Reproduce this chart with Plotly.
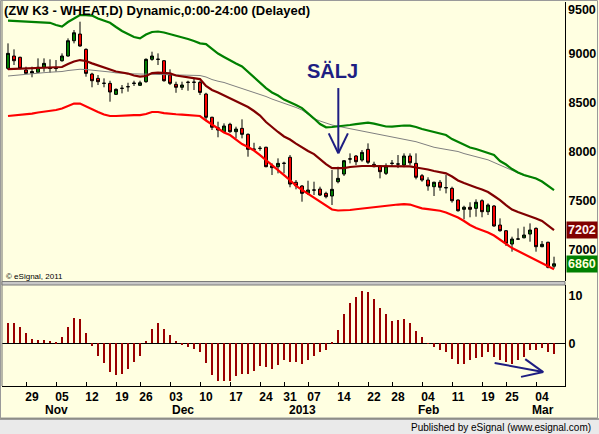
import plotly.graph_objects as go
import pandas as pd

W, H = 599, 434

# ---------------- data ----------------
holidays = ["2012-11-22", "2012-12-25", "2013-01-01", "2013-01-21", "2013-02-18"]
dates = [d for d in pd.bdate_range("2012-10-23", "2013-03-06")
         if d.strftime("%Y-%m-%d") not in holidays]
x = list(range(len(dates)))

opens = [8853, 8979, 8966, 8836, 8821, 8813, 8864, 8855, 8852, 8931,
         8979, 9135, 9203, 9047, 8795, 8751, 8702, 8700, 8588, 8650,
         8666, 8698, 8680, 8717, 8945, 8947, 8931, 8785, 8690, 8660,
         8712, 8710, 8711, 8591, 8354, 8247, 8207, 8282, 8207, 8241,
         8180, 8029, 8037, 8048, 7860, 7850, 7886, 7946, 7691, 7653,
         7578, 7613, 7622, 7578, 7551, 7697, 7775, 7930, 7959, 7918,
         8027, 7874, 7857, 7782, 7883, 7878, 7867, 7959, 7884, 7758,
         7714, 7646, 7691, 7637, 7629, 7510, 7415, 7436, 7425, 7503,
         7391, 7449, 7255, 7197, 7061, 7111, 7125, 7163, 7221, 7034,
         7079, 6835]
highs = [9108, 9047, 8972, 8870, 8870, 8955, 8955, 8945, 8938, 9006,
         9159, 9244, 9329, 9057, 8808, 8785, 8751, 8727, 8649, 8683,
         8706, 8727, 8727, 8955, 9023, 9006, 8938, 8843, 8717, 8717,
         8727, 8751, 8727, 8604, 8360, 8309, 8292, 8298, 8258, 8333,
         8190, 8094, 8061, 8054, 7884, 7935, 7901, 7969, 7714, 7663,
         7707, 7697, 7646, 7595, 7816, 7850, 7918, 7986, 7969, 8020,
         8088, 7901, 7867, 7884, 7918, 7969, 7986, 7986, 7986, 7775,
         7742, 7697, 7714, 7765, 7646, 7517, 7452, 7487, 7517, 7517,
         7476, 7459, 7323, 7204, 7136, 7221, 7238, 7272, 7231, 7092,
         7085, 6932]
lows = [8836, 8887, 8843, 8802, 8762, 8813, 8819, 8808, 8819, 8921,
        8972, 9108, 9074, 8768, 8660, 8683, 8660, 8513, 8581, 8598,
        8615, 8673, 8673, 8706, 8931, 8887, 8717, 8683, 8604, 8632,
        8625, 8632, 8581, 8326, 8224, 8150, 8196, 8196, 8139, 8139,
        7952, 8020, 8013, 7844, 7765, 7782, 7782, 7640, 7619, 7493,
        7561, 7561, 7551, 7527, 7459, 7680, 7755, 7884, 7867, 7901,
        7877, 7844, 7731, 7765, 7850, 7836, 7844, 7867, 7721, 7697,
        7605, 7551, 7605, 7578, 7483, 7391, 7313, 7334, 7340, 7334,
        7357, 7238, 7187, 7041, 6983, 7109, 7119, 7085, 6983, 7028,
        6813, 6813]
closes = [9006, 8931, 8853, 8802, 8805, 8864, 8904, 8852, 8855, 8979,
          9135, 9216, 9081, 8802, 8727, 8717, 8700, 8612, 8639, 8649,
          8666, 8702, 8706, 8945, 8979, 8945, 8727, 8700, 8660, 8683,
          8710, 8712, 8608, 8354, 8252, 8224, 8265, 8207, 8234, 8180,
          8027, 8027, 8037, 7850, 7840, 7884, 7884, 7673, 7656, 7578,
          7612, 7611, 7561, 7544, 7619, 7731, 7911, 7928, 7901, 7996,
          7895, 7850, 7799, 7857, 7885, 7877, 7959, 7890, 7742, 7714,
          7653, 7691, 7640, 7635, 7503, 7401, 7436, 7415, 7487, 7391,
          7459, 7245, 7197, 7068, 7112, 7113, 7153, 7204, 7034, 7058,
          6824, 6860]

upper_band = [9339, 9336, 9331, 9326, 9326, 9323, 9320, 9318, 9295, 9280,
              9326, 9366, 9397, 9397, 9392, 9361, 9336, 9318, 9275, 9234,
              9203, 9173, 9159, 9198, 9224, 9229, 9219, 9203, 9188, 9173,
              9152, 9132, 9108, 9101, 9055, 9004, 8969, 8933, 8902, 8872,
              8816, 8760, 8703, 8652, 8607, 8576, 8535, 8510, 8479, 8448,
              8397, 8341, 8285, 8252, 8255, 8260, 8270, 8275, 8285, 8295,
              8300, 8290, 8275, 8260, 8258, 8265, 8270, 8268, 8255, 8234,
              8219, 8204, 8188, 8173, 8132, 8102, 8071, 8046, 8030, 8010,
              7989, 7969, 7908, 7872, 7826, 7791, 7765, 7750, 7729, 7699,
              7658, 7612]
middle_line = [8846, 8848, 8850, 8851, 8853, 8854, 8856, 8858, 8862, 8867,
               8897, 8923, 8938, 8928, 8904, 8882, 8862, 8841, 8821, 8811,
               8800, 8780, 8768, 8775, 8805, 8809, 8805, 8802, 8780, 8770,
               8762, 8754, 8744, 8673, 8632, 8607, 8578, 8547, 8515, 8489,
               8459, 8418, 8372, 8306, 8250, 8204, 8158, 8127, 8086, 8046,
               8010, 7979, 7928, 7877, 7836, 7833, 7836, 7847, 7854, 7857,
               7857, 7857, 7857, 7857, 7857, 7857, 7857, 7854, 7842, 7833,
               7821, 7806, 7793, 7782, 7750, 7709, 7683, 7658, 7638, 7617,
               7592, 7551, 7510, 7459, 7413, 7388, 7367, 7342, 7321, 7296,
               7250, 7202]
lower_band = [8367, 8372, 8379, 8385, 8392, 8403, 8410, 8418, 8428, 8443,
              8469, 8494, 8494, 8464, 8433, 8408, 8382, 8367, 8367, 8372,
              8375, 8377, 8377, 8387, 8408, 8408, 8397, 8389, 8385, 8381,
              8377, 8375, 8367, 8321, 8280, 8239, 8199, 8173, 8127, 8081,
              8051, 8015, 7969, 7918, 7867, 7816, 7765, 7714, 7653, 7612,
              7571, 7530, 7490, 7449, 7413, 7403, 7403, 7408, 7416, 7424,
              7428, 7437, 7442, 7449, 7457, 7464, 7469, 7464, 7444, 7425,
              7418, 7410, 7401, 7383, 7357, 7332, 7296, 7255, 7224, 7204,
              7179, 7148, 7107, 7061, 7020, 6990, 6959, 6929, 6903, 6867,
              6837, 6803]
slow_ma = [8775, 8782, 8787, 8793, 8799, 8805, 8809, 8814, 8817, 8821,
           8831, 8838, 8844, 8841, 8836, 8831, 8824, 8816, 8807, 8801,
           8799, 8797, 8795, 8792, 8790, 8789, 8788, 8787, 8786, 8785,
           8785, 8784, 8780, 8765, 8739, 8722, 8709, 8688, 8668, 8647,
           8627, 8607, 8586, 8566, 8540, 8520, 8499, 8479, 8454, 8428,
           8387, 8341, 8316, 8295, 8275, 8262, 8250, 8237, 8224, 8214,
           8200, 8188, 8173, 8163, 8153, 8142, 8132, 8119, 8105, 8086,
           8066, 8048, 8037, 8027, 8020, 8005, 7984, 7969, 7949, 7933,
           7920, 7893, 7867, 7836, 7811, 7785, 7760, 7745, 7732, 7694,
           7653, 7612]
oscillator = [4.3, 4.3, 3.5, 2.2, 0.9, 0.7, 0.7, 0.5, 0.3, 1.4,
              3.3, 5.3, 5.1, 2.2, -0.5, -2.6, -4.2, -5.9, -6.6, -6.4,
              -5.3, -4.0, -2.6, 0.5, 3.0, 4.3, 3.0, 1.7, 0.5, -0.2,
              -0.7, -1.2, -1.9, -4.2, -6.6, -7.8, -7.8, -7.8, -6.9, -6.4,
              -6.4, -5.7, -4.7, -5.0, -5.3, -4.5, -3.5, -4.0, -3.8, -4.3,
              -3.5, -2.6, -1.9, -1.4, 0.3, 2.8, 6.1, 8.5, 9.7, 10.9,
              10.6, 9.2, 7.4, 6.1, 4.7, 4.9, 5.0, 4.3, 2.6, 1.4,
              -0.1, -0.7, -1.5, -1.9, -3.3, -4.3, -4.3, -3.5, -3.1, -2.8,
              -1.9, -2.9, -3.5, -4.0, -4.3, -3.5, -2.9, -1.5, -1.5, -0.9,
              -1.9, -2.2]

price_ticks = [7000, 7500, 8000, 8500, 9000]
top_price_label = 9500
osc_ticks = [0, 10]

# ---------------- derived tick positions ----------------
week_starts = [i for i in x[1:] if dates[i].isocalendar()[1] != dates[i - 1].isocalendar()[1]]
day_text = [dates[i].strftime("%d") for i in week_starts]
week_ends = [i - 0.9 for i in week_starts]
month_starts = [i for i in x[1:] if dates[i].month != dates[i - 1].month]
month_text = [("2013" if dates[i].month == 1 else dates[i].strftime("%b")) for i in month_starts]

# ---------------- colours ----------------
BG = "#FFFFE1"
NAVY = "#1E1E82"
FONT = "Liberation Sans, Arial, sans-serif"

def px_x(p):
    return p / W

def px_y(p):
    return 1 - p / H

fig = go.Figure()

fig.add_trace(go.Scatter(x=x, y=slow_ma, mode="lines", line=dict(color="#808080", width=1),
                         hoverinfo="skip", xaxis="x", yaxis="y"))
fig.add_trace(go.Scatter(x=x, y=upper_band, mode="lines", line=dict(color="#008000", width=2.2),
                         hoverinfo="skip", xaxis="x", yaxis="y"))
fig.add_trace(go.Scatter(x=x, y=lower_band, mode="lines", line=dict(color="#FF0000", width=2.2),
                         hoverinfo="skip", xaxis="x", yaxis="y"))
fig.add_trace(go.Scatter(x=x, y=middle_line, mode="lines", line=dict(color="#800000", width=2.2),
                         hoverinfo="skip", xaxis="x", yaxis="y"))
fig.add_trace(go.Candlestick(
    x=x, open=opens, high=highs, low=lows, close=closes,
    increasing=dict(fillcolor="#008000", line=dict(color="#000000", width=1)),
    decreasing=dict(fillcolor="#FF0000", line=dict(color="#000000", width=1)),
    whiskerwidth=0, xaxis="x", yaxis="y"))

fig.add_trace(go.Bar(x=x, y=oscillator, width=0.36, marker=dict(color="#990000", line=dict(width=0)),
                     xaxis="x2", yaxis="y2"))

x_rng = [-1, 92.83]
fig.update_layout(
    width=W, height=H, autosize=False,
    margin=dict(l=0, r=0, t=0, b=0),
    paper_bgcolor=BG, plot_bgcolor=BG,
    showlegend=False,
    font=dict(family=FONT, color="#000000", size=12),
    xaxis=dict(domain=[px_x(2), px_x(565)], range=x_rng, anchor="y",
               showticklabels=False, ticks="", showgrid=False, zeroline=False,
               showline=False, rangeslider=dict(visible=False)),
    yaxis=dict(domain=[px_y(281), px_y(2)], range=[6684, 9530], side="right",
               tickvals=price_ticks, ticktext=[str(v) for v in price_ticks],
               ticks="", showgrid=False, zeroline=False, showline=True,
               linecolor="#000000", linewidth=1, ticklabelstandoff=0,
               tickfont=dict(family=FONT, size=12.5, color="#000000", weight="bold")),
    xaxis2=dict(domain=[px_x(2), px_x(565)], range=x_rng, anchor="y2",
                tickvals=week_starts, ticktext=day_text, ticks="",
                minor=dict(tickvals=week_ends, ticks="inside", ticklen=4, tickcolor="#000000"),
                showgrid=False, zeroline=False, showline=True, linecolor="#000000",
                linewidth=1, ticklabelstandoff=0,
                tickfont=dict(family=FONT, size=12, color="#000000", weight="bold")),
    yaxis2=dict(domain=[px_y(386), px_y(285)], range=[-8.9, 12.15], side="right",
                anchor="x2", tickvals=osc_ticks, ticktext=[str(v) for v in osc_ticks],
                ticks="", showgrid=False, zeroline=True, zerolinecolor="#000000",
                zerolinewidth=1, showline=True, linecolor="#000000", linewidth=1,
                ticklabelstandoff=0,
                tickfont=dict(family=FONT, size=12.5, color="#000000", weight="bold")),
    bargap=0,
)

shapes = []
# outer frame
shapes.append(dict(type="rect", xref="paper", yref="paper", x0=px_x(0.5), x1=px_x(597.5),
                   y0=px_y(418), y1=px_y(0.5), line=dict(color="#9A9A9A", width=1),
                   fillcolor="rgba(0,0,0,0)", layer="above"))
# left border
shapes.append(dict(type="line", xref="paper", yref="paper", x0=px_x(2), x1=px_x(2),
                   y0=px_y(386), y1=px_y(1), line=dict(color="#707070", width=1)))
# separator between panels
shapes.append(dict(type="rect", xref="paper", yref="paper", x0=px_x(2), x1=px_x(565),
                   y0=px_y(285), y1=px_y(281.5), line=dict(color="#7A7A7A", width=1),
                   fillcolor="#C8C8C8"))
# status bar
shapes.append(dict(type="rect", xref="paper", yref="paper", x0=0, x1=1,
                   y0=0, y1=px_y(419), line=dict(width=0), fillcolor="#EAEAEA"))
shapes.append(dict(type="line", xref="paper", yref="paper", x0=0, x1=1,
                   y0=px_y(419), y1=px_y(419), line=dict(color="#505050", width=1)))

# SÄLJ arrow (price panel)
sell_x, sell_top, sell_tip = 55.05, 8652, 7987
arm_dx, arm_y = 1.6, 8190
for seg in [(sell_x, sell_top), (sell_x - arm_dx, arm_y), (sell_x + arm_dx, arm_y)]:
    shapes.append(dict(type="line", xref="x", yref="y", x0=seg[0], y0=seg[1],
                       x1=sell_x, y1=sell_tip, line=dict(color=NAVY, width=2)))
# oscillator arrow
tip = (89.2, -6.0)
for seg in [(81.1, -4.1), (86.2, -3.3), (85.5, -7.0)]:
    shapes.append(dict(type="line", xref="x2", yref="y2", x0=seg[0], y0=seg[1],
                       x1=tip[0], y1=tip[1], line=dict(color=NAVY, width=2)))

annotations = []
annotations.append(dict(text="<b>(ZW K3 - WHEAT,D) Dynamic,0:00-24:00 (Delayed)</b>",
                        xref="paper", yref="paper", x=px_x(2), y=px_y(11),
                        xanchor="left", yanchor="middle", showarrow=False,
                        font=dict(family=FONT, size=13, color="#000000")))
annotations.append(dict(text="<b>SÄLJ</b>", xref="x", yref="y", x=54, y=8828,
                        xanchor="center", yanchor="middle", showarrow=False,
                        font=dict(family=FONT, size=20, color=NAVY)))
annotations.append(dict(text="<b>%d</b>" % top_price_label, xref="paper", yref="paper",
                        x=px_x(566), y=px_y(10.5), xanchor="left", yanchor="middle",
                        showarrow=False, font=dict(family=FONT, size=12.5, color="#000000")))
annotations.append(dict(text="<b>%d</b>" % middle_line[-1], xref="paper", yref="y",
                        x=px_x(566), y=middle_line[-1], xanchor="left", yanchor="middle",
                        showarrow=False, bgcolor="#800000", borderpad=1,
                        font=dict(family=FONT, size=12.5, color="#FFF4F4")))
annotations.append(dict(text="<b>%d</b>" % closes[-1], xref="paper", yref="y",
                        x=px_x(566), y=closes[-1], xanchor="left", yanchor="middle",
                        showarrow=False, bgcolor="#008000", borderpad=1,
                        font=dict(family=FONT, size=12.5, color="#FFFFD8")))
annotations.append(dict(text="© eSignal, 2011", xref="paper", yref="paper",
                        x=px_x(4), y=px_y(276), xanchor="left", yanchor="middle",
                        showarrow=False, font=dict(family=FONT, size=8, color="#000000")))
for i, t in zip(month_starts, month_text):
    annotations.append(dict(text="<b>%s</b>" % t, xref="x2", yref="paper", x=i + 1.1,
                            y=px_y(410), xanchor="center", yanchor="middle", showarrow=False,
                            font=dict(family=FONT, size=12, color="#000000")))
annotations.append(dict(text="Published by eSignal (www.esignal.com)", xref="paper", yref="paper",
                        x=px_x(593), y=px_y(427), xanchor="right", yanchor="middle",
                        showarrow=False, font=dict(family=FONT, size=10, color="#000000")))

fig.update_layout(shapes=shapes, annotations=annotations)
fig.write_html("out.html", config={"displayModeBar": False},
               post_script="document.body.style.margin='0';document.body.style.overflow='hidden';")
